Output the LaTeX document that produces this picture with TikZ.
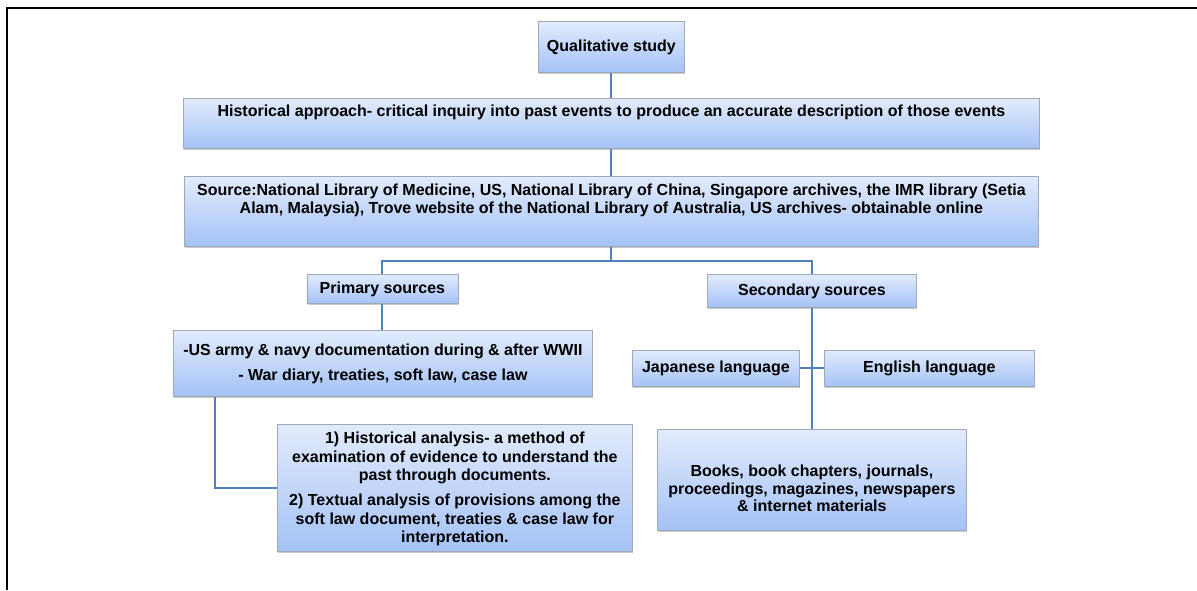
\documentclass[tikz,border=0pt]{standalone}
\usepackage{fontspec}
\setmainfont{Liberation Sans}
\usetikzlibrary{shadows}
\definecolor{boxtop}{HTML}{E2EBFC}
\definecolor{boxbot}{HTML}{A4C2F6}
\definecolor{boxline}{HTML}{A0A8B6}
\definecolor{conn}{HTML}{4F81BD}
\tikzset{
  flowbox/.style={draw=boxline, line width=0.8pt, top color=boxtop, bottom color=boxbot,
    inner sep=0pt, anchor=north west,
    font=\fontsize{16}{18.5}\selectfont\bfseries,
    drop shadow={shadow xshift=1pt, shadow yshift=-2pt, opacity=0.35, fill=black!60}},
  link/.style={draw=conn, line width=2pt},
  frameline/.style={draw=black, line width=2pt}
}
\newcommand{\cbox}[3]{\parbox[c][#2pt][c]{#1pt}{\centering #3}}
\newcommand{\tbox}[4]{\parbox[c][#2pt][t]{#1pt}{\centering\rule{0pt}{#3pt}#4}}
\begin{document}
\begin{tikzpicture}[x=1pt,y=-1pt]
\useasboundingbox (0,0) rectangle (1197,590);
\fill[white] (0,0) rectangle (1197,590);
\draw[frameline] (7,590) -- (7,8) -- (1197,8);

\node[flowbox] (qual) at (538,21) {\cbox{146}{51}{Qualitative study}};
\node[flowbox] (hist) at (183,98) {\tbox{856}{50}{18}{Historical approach- critical inquiry into past events to produce an accurate description of those events}};
\node[flowbox] (source) at (184,176) {\tbox{854}{70}{19}{Source:National Library of Medicine, US, National Library of China, Singapore archives, the IMR library (Setia\\ Alam, Malaysia), Trove website of the National Library of Australia, US archives- obtainable online}};
\node[flowbox] (prim) at (306.5,274) {\cbox{151}{29}{Primary sources}};
\node[flowbox] (sec) at (707,274) {\cbox{209}{33}{Secondary sources}};
\node[flowbox] (usarmy) at (173,330) {\tbox{419}{66}{25}{-US army \& navy documentation during \& after WWII\\[7pt] - War diary, treaties, soft law, case law}};
\node[flowbox] (anal) at (277,424) {\tbox{355}{127}{19.3}{1) Historical analysis- a method of\\ examination of evidence to understand the\\ past through documents.\\[6.5pt] 2) Textual analysis of provisions among the\\ soft law document, treaties \& case law for\\ interpretation.}};
\node[flowbox] (jap) at (632,350) {\cbox{167}{36}{Japanese language}};
\node[flowbox] (eng) at (824,350) {\cbox{210}{36}{English language}};
\node[flowbox] (books) at (657,429) {\tbox{309}{101}{47.5}{\baselineskip=17.5pt Books, book chapters, journals,\\ proceedings, magazines, newspapers\\ \& internet materials\par}};

\draw[link] (qual.south) -- (hist.north);
\draw[link] (hist.south) -- (source.north);
\draw[link] (source.south) -- ++(0,14.5) coordinate (split);
\draw[link] (prim.north) |- (split) -| (sec.north);
\draw[link] (prim.south) -- (prim.south |- usarmy.north);
\draw[link] ([xshift=42pt]usarmy.south west) |- (anal.west);
\draw[link] (sec.south) -- (sec.south |- books.north);
\draw[link] (jap.east) -- (eng.west);
\end{tikzpicture}
\end{document}
